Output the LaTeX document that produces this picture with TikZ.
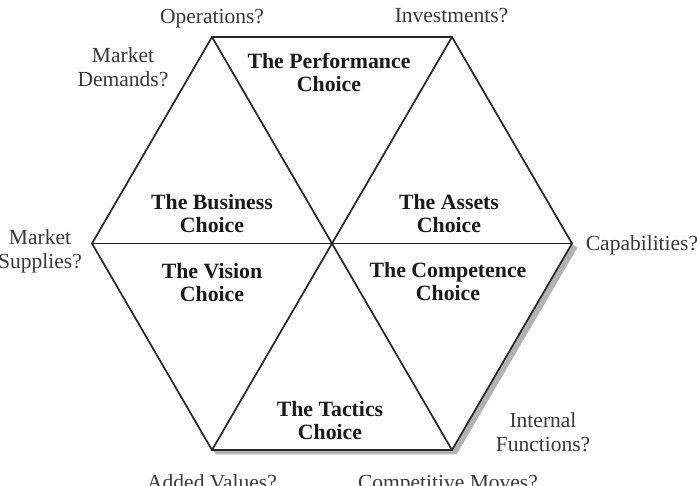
\documentclass[tikz,border=0pt]{standalone}
\usepackage{fontspec}
\setmainfont{Liberation Serif}
\begin{document}
\begin{tikzpicture}[x=1pt,y=-1pt,
  hexline/.style={line width=1.7pt,black!85,line join=miter},
  choice/.style={font=\fontsize{21.8}{23.5}\selectfont\bfseries,align=center,anchor=base,inner sep=0pt,text=black!90},
  question/.style={font=\fontsize{21.5}{24.5}\selectfont,align=center,anchor=base,inner sep=0pt,text=black!78}]
\useasboundingbox (0,0) rectangle (697,486);
% vertices
\coordinate (TL) at (212,37);
\coordinate (TR) at (452,37);
\coordinate (R) at (572,243.5);
\coordinate (BR) at (452,450);
\coordinate (BL) at (212,450);
\coordinate (L) at (92,243.5);
\coordinate (C) at (332,243.5);
% shadow
\fill[black!30] (572,244) -- (577.5,247.5) -- (456.5,454.5) -- (216,454.5) -- (213,450) -- (452,450) -- cycle;
% hexagon
\draw[hexline,fill=white] (TL) -- (TR) -- (R) -- (BR) -- (BL) -- (L) -- cycle;
\draw[hexline] (TL) -- (BR);
\draw[hexline] (TR) -- (BL);
\draw[hexline] (L) -- (R);
% choices (base = baseline of last line)
\node[choice] (perf) at (329,92) {The Performance\\Choice};
\node[choice] (bus) at (212,233) {The Business\\Choice};
\node[choice] (assets) at (449,233) {The Assets\\Choice};
\node[choice] (vision) at (212,302) {The Vision\\Choice};
\node[choice] (comp) at (448,301) {The Competence\\Choice};
\node[choice] (tact) at (330,440) {The Tactics\\Choice};
% questions
\node[question] (ops) at (212,24) {Operations?};
\node[question] (inv) at (451.5,23) {Investments?};
\node[question] (md) at (123,87) {Market\\Demands?};
\node[question] (ms) at (40,269) {Market\\Supplies?};
\node[question] (cap) at (642,251) {Capabilities?};
\node[question] (intf) at (543,452) {Internal\\Functions?};
\node[question] (av) at (212,490) {Added Values?};
\node[question] (cm) at (448,490) {Competitive Moves?};
\end{tikzpicture}
\end{document}
